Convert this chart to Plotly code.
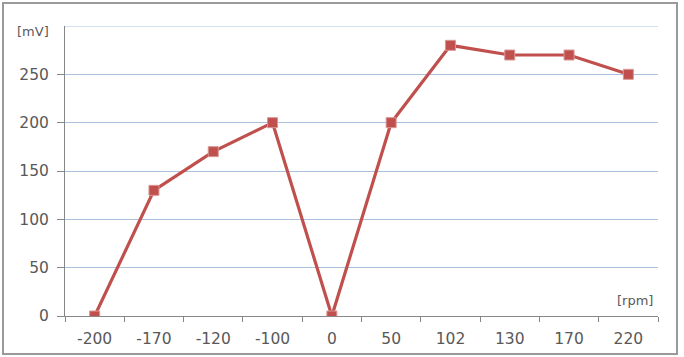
import plotly.graph_objects as go

categories = ["-200", "-170", "-120", "-100", "0", "50", "102", "130", "170", "220"]
values = [0, 130, 170, 200, 0, 200, 280, 270, 270, 250]
y_ticks = [0, 50, 100, 150, 200, 250]

W, H = 684, 357
L, R, T, B = 65, 26, 26, 41
pw, ph = W - L - R, H - T - B

def px(x):
    return (x - L) / pw

def py(y):
    return (H - B - y) / ph

font = dict(family="DejaVu Sans, Verdana, sans-serif", size=15.5, color="#595959")

fig = go.Figure()
fig.add_trace(go.Scatter(
    x=categories, y=values, mode="lines+markers",
    line=dict(color="#C0504D", width=3.2),
    marker=dict(symbol="square", size=10, color="#C0504D",
                line=dict(color="#D99694", width=1)),
    showlegend=False,
))

fig.update_layout(
    width=W, height=H,
    margin=dict(l=L, r=R, t=T, b=B),
    paper_bgcolor="white", plot_bgcolor="white",
    font=font,
    xaxis=dict(type="category", range=[-0.5, 9.5], showgrid=False,
               showline=True, linecolor="#868686", linewidth=1,
               ticks="outside", tickson="boundaries", ticklen=5,
               tickcolor="#868686", tickfont=font, zeroline=False,
               ticklabelstandoff=8, automargin=False, fixedrange=True),
    yaxis=dict(range=[0, 300], tickvals=y_ticks, showgrid=True,
               gridcolor="#A9C1DD", gridwidth=1,
               showline=True, linecolor="#868686", linewidth=1,
               ticks="outside", ticklen=7, tickcolor="#868686",
               tickfont=font, zeroline=False, ticklabelstandoff=5,
               automargin=False, fixedrange=True),
    shapes=[
        dict(type="line", xref="x domain", yref="y", x0=0, x1=1, y0=300, y1=300,
             line=dict(color="#A9C1DD", width=1), layer="below"),
        dict(type="rect", xref="paper", yref="paper",
             x0=px(3), x1=px(677), y0=py(354), y1=py(3),
             line=dict(color="#9A9A9A", width=2), fillcolor="rgba(0,0,0,0)"),
    ],
    annotations=[
        dict(text="[mV]", xref="paper", yref="paper", x=px(33), y=py(31),
             xanchor="center", yanchor="middle", showarrow=False,
             font=dict(family=font["family"], size=13, color="#595959")),
        dict(text="[rpm]", xref="paper", yref="paper", x=px(635), y=py(300),
             xanchor="center", yanchor="middle", showarrow=False,
             font=dict(family=font["family"], size=13, color="#595959")),
    ],
)

fig.write_html("out.html")
